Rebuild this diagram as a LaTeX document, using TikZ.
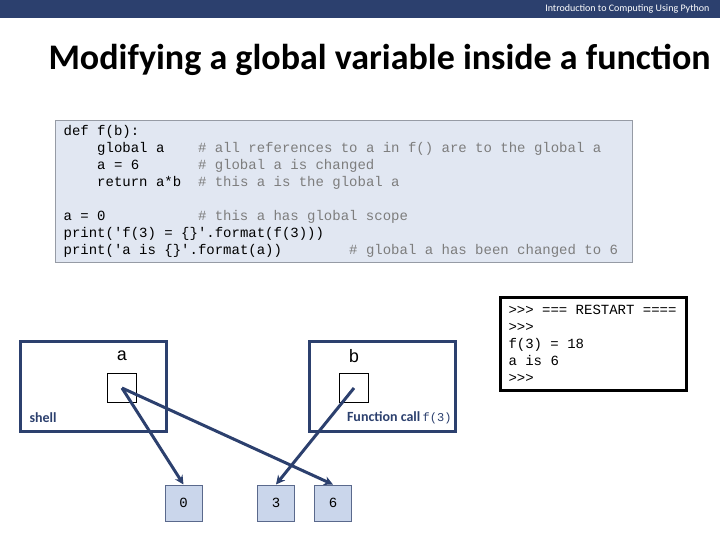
\documentclass[tikz,border=0pt]{standalone}
\usepackage{fontspec}
\setmainfont{Carlito}
\setmonofont{Liberation Mono}
\usetikzlibrary{arrows.meta}
\definecolor{barblue}{RGB}{44, 64, 110}
\definecolor{codebg}{RGB}{225, 231, 242}
\definecolor{codeframe}{RGB}{150, 155, 165}
\definecolor{cmtgray}{RGB}{125, 125, 125}
\definecolor{objfill}{RGB}{202, 214, 235}
\definecolor{objframe}{RGB}{90, 105, 140}
\newcommand{\cmt}[1]{\textcolor{cmtgray}{#1}}
% n blank columns of the 14pt code font
\newcommand{\sk}[1]{\hspace*{#1\dimexpr 8.4pt\relax}}

\begin{document}
\begin{tikzpicture}[x=1pt, y=-1pt,
  codebox/.style={rectangle, draw=codeframe, line width=1.2pt, fill=codebg,
                  anchor=north west, inner xsep=8pt, align=left,
                  font=\fontsize{14}{17}\selectfont\ttfamily},
  frame/.style={rectangle, draw=barblue, line width=3pt,
                minimum width=146, minimum height=90},
  cell/.style={rectangle, draw=black, line width=0.8pt,
               minimum width=29, minimum height=29},
  obj/.style={rectangle, draw=objframe, line width=1pt, fill=objfill,
              minimum width=37, minimum height=36,
              font=\fontsize{14}{14}\selectfont\ttfamily},
  varname/.style={font=\fontsize{18}{18}\selectfont\ttfamily},
  tag/.style={font=\fontsize{14}{14}\selectfont\bfseries, text=barblue},
  arr/.style={-{Stealth[length=9pt, width=9pt]}, line width=3pt, barblue}
]
\useasboundingbox (0,0) rectangle (720,540);

% header bar and title
\fill[barblue] (0,0) rectangle (720,18);
\node[anchor=east, text=white, font=\fontsize{10}{10}\selectfont] (course) at (713,9)
  {Introduction to Computing Using Python};
\node[anchor=base west, font=\fontsize{36}{36}\selectfont\bfseries] (title) at (45,70)
  {Modifying a global variable inside a function};

% program text
\node[codebox, text width=561pt, minimum height=142] (src) at (55,120)
  {def\sk1f(b):\\
   \sk4global\sk1a\sk4\cmt{\#\sk1all\sk1references\sk1to\sk1a\sk1in\sk1f()\sk1are\sk1to\sk1the\sk1global\sk1a}\\
   \sk4a\sk1=\sk16\sk7\cmt{\#\sk1global\sk1a\sk1is\sk1changed}\\
   \sk4return\sk1a*b\sk2\cmt{\#\sk1this\sk1a\sk1is\sk1the\sk1global\sk1a}\\
   \sk1\\
   a\sk1=\sk10\sk{11}\cmt{\#\sk1this\sk1a\sk1has\sk1global\sk1scope}\\
   print('f(3)\sk1=\sk1\{\}'.format(f(3)))\\
   print('a\sk1is\sk1\{\}'.format(a))\sk8\cmt{\#\sk1global\sk1a\sk1has\sk1been\sk1changed\sk1to\sk16}};

% shell output
\node[codebox, draw=black, fill=white, line width=3pt, text width=170pt,
      minimum height=93, inner xsep=8pt] (out) at (499,296)
  {>{}>{}>\sk1===\sk1RESTART\sk1====\\
   >{}>{}>\\
   f(3)\sk1=\sk118\\
   a\sk1is\sk16\\
   >{}>{}>};

% namespaces
\node[frame] (shell) at (93,386) {};
\node[frame] (call) at (382,386) {};
\node[varname] (aname) at (122,356) {a};
\node[varname] (bname) at (354,356) {b};
\node[cell] (acell) at (122,388) {};
\node[cell] (bcell) at (354,388) {};
\node[tag, anchor=west] (shelltag) at (26,418) {shell};
\node[tag, anchor=east] (calltag) at (455,418)
  {Function call\,{\fontsize{12}{12}\selectfont\mdseries\ttfamily f(3)}};

% objects
\node[obj] (zero) at (183.5,503) {0};
\node[obj] (three) at (276,503) {3};
\node[obj] (six) at (333,503) {6};

\draw[arr] (acell.center) -- (zero.north);
\draw[arr] (acell.center) -- (six.north);
\draw[arr] (bcell.center) -- (three.north);

\end{tikzpicture}
\end{document}
